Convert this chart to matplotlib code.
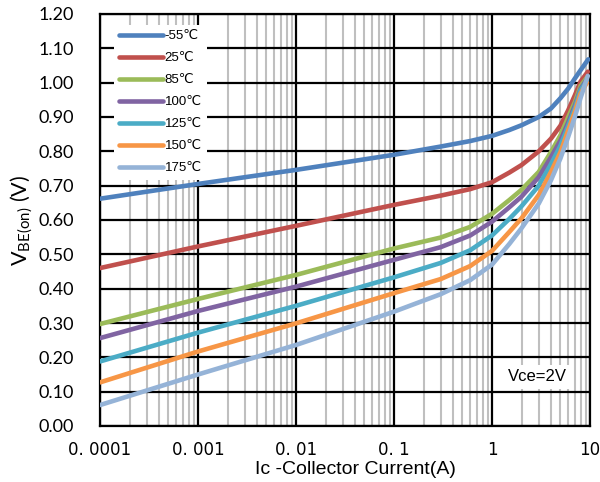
import numpy as np
import matplotlib
matplotlib.use("Agg")
import matplotlib.pyplot as plt
from matplotlib.ticker import FixedLocator, FixedFormatter, FormatStrFormatter, MultipleLocator

# --- data ---
ic_points = [1e-4, 1e-3, 1e-2, 0.1, 0.3, 0.6, 1, 1.5, 2, 3, 4, 5, 6, 7, 8]

temps = ["-55\u2103", "25\u2103", "85\u2103", "100\u2103", "125\u2103", "150\u2103", "175\u2103"]

vbe_m55 = [0.662, 0.705, 0.746, 0.790, 0.814, 0.830, 0.845, 0.862, 0.876, 0.900, 0.925, 0.955, 0.983, 1.012, 1.036]
vbe_25 = [0.460, 0.523, 0.583, 0.644, 0.671, 0.690, 0.710, 0.738, 0.760, 0.800, 0.837, 0.875, 0.920, 0.963, 1.003]
vbe_85 = [0.297, 0.370, 0.440, 0.517, 0.549, 0.580, 0.618, 0.658, 0.688, 0.740, 0.798, 0.847, 0.900, 0.943, 0.990]
vbe_100 = [0.256, 0.335, 0.406, 0.484, 0.521, 0.555, 0.595, 0.637, 0.668, 0.725, 0.783, 0.832, 0.885, 0.933, 0.982]
vbe_125 = [0.188, 0.272, 0.350, 0.433, 0.475, 0.512, 0.555, 0.603, 0.640, 0.700, 0.763, 0.817, 0.875, 0.925, 0.978]
vbe_150 = [0.127, 0.217, 0.299, 0.387, 0.428, 0.466, 0.510, 0.565, 0.605, 0.673, 0.740, 0.798, 0.862, 0.915, 0.968]
vbe_175 = [0.061, 0.150, 0.236, 0.333, 0.384, 0.425, 0.470, 0.530, 0.576, 0.648, 0.716, 0.780, 0.843, 0.900, 0.955]

# last point of each curve (current, voltage)
ic_end = [9.6, 9.5, 9.3, 9.3, 9.3, 9.3, 9.5]
vbe_end = [1.068, 1.032, 1.015, 1.010, 1.005, 1.000, 1.020]

series = [vbe_m55, vbe_25, vbe_85, vbe_100, vbe_125, vbe_150, vbe_175]
colors = ["#4F81BD", "#C0504D", "#9BBB59", "#8064A2", "#4BACC6", "#F79646", "#95B3D7"]

x_ticks = [1e-4, 1e-3, 1e-2, 1e-1, 1, 10]
x_ticklabels = ["0. 0001", "0. 001", "0. 01", "0. 1", "1", "10"]

plt.rcParams["mathtext.default"] = "regular"

fig = plt.figure(figsize=(6, 4.82), dpi=100)
ax = fig.add_axes([100 / 600, 56 / 482, 490 / 600, 412 / 482])

for vals, xe, ye, c, lab in zip(series, ic_end, vbe_end, colors, temps):
    ax.plot(ic_points + [xe], vals + [ye], color=c, lw=3.3, label=lab,
            solid_capstyle="round", solid_joinstyle="round", zorder=5)

ax.set_xscale("log")
ax.set_xlim(1e-4, 10)
ax.set_ylim(0, 1.2)

# grid: black majors, grey minor verticals
ax.xaxis.set_major_locator(FixedLocator(x_ticks))
ax.xaxis.set_major_formatter(FixedFormatter(x_ticklabels))
minors = [m * 10.0 ** e for e in range(-4, 1) for m in range(2, 10)]
ax.xaxis.set_minor_locator(FixedLocator(minors))
ax.xaxis.set_minor_formatter(FixedFormatter([""] * len(minors)))
ax.yaxis.set_major_locator(MultipleLocator(0.1))
ax.yaxis.set_major_formatter(FormatStrFormatter("%.2f"))

ax.grid(which="minor", axis="x", color="#BFBFBF", lw=1.5)
ax.grid(which="major", axis="y", color="black", lw=1.6)
ax.grid(which="major", axis="x", color="black", lw=1.6)

ax.tick_params(which="both", length=0)
ax.tick_params(axis="y", pad=19)
ax.tick_params(axis="x", pad=10.5)
for lbl in ax.get_yticklabels():
    lbl.set_fontfamily("Lato")
    lbl.set_fontsize(13)
for lbl in ax.get_xticklabels():
    lbl.set_fontfamily("DejaVu Sans")
    lbl.set_fontsize(12)

for s in ax.spines.values():
    s.set_linewidth(1.6)
    s.set_color("black")

ax.set_xlabel("Ic -Collector Current(A)", fontsize=14, family="Liberation Sans")
ax.xaxis.set_label_coords(0.522, -0.086)
ax.set_ylabel("V$_{BE(on)}$ (V)", fontsize=15.5, family="Lato", labelpad=2)

leg = ax.legend(loc="upper left", bbox_to_anchor=(0.015, 0.99), frameon=True,
                fancybox=False, edgecolor="none", facecolor="white", framealpha=1,
                handlelength=3.3, handletextpad=0.15, labelspacing=0.74,
                borderpad=0.4, prop={"family": ["Liberation Sans", "DejaVu Sans"], "size": 9.5})
leg.set_zorder(6)

ax.text(2.88, 0.143, "Vce=2V", fontsize=12, family="Liberation Sans", ha="center", va="center",
        bbox=dict(facecolor="white", edgecolor="none", pad=3), zorder=6)

fig.savefig("out.png", dpi=100)
